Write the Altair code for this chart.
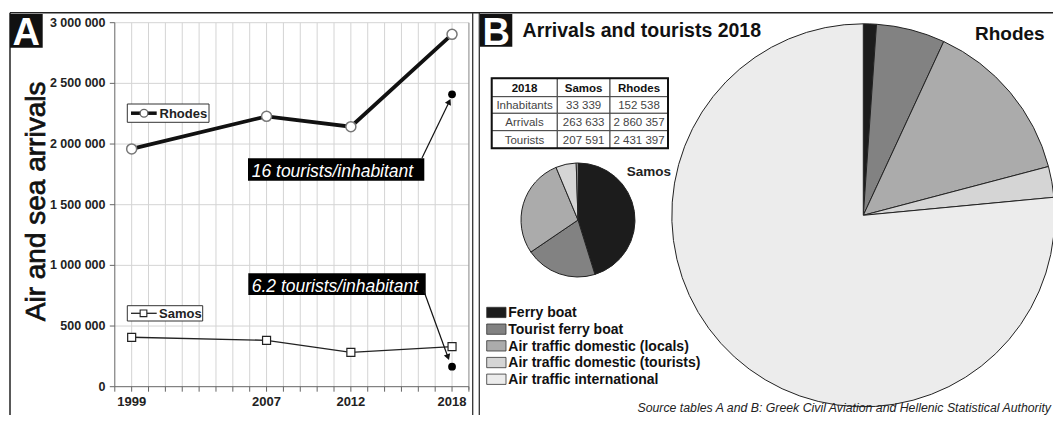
import altair as alt
import pandas as pd

# ---------------- data ----------------
years = [1999, 2007, 2012, 2018]
rhodes_arrivals = [1960000, 2228000, 2143000, 2904000]
samos_arrivals = [407000, 382000, 283000, 330000]
tourist_years = [2018, 2018]
tourist_values = [2410000, 165000]

y_ticks = [0, 500000, 1000000, 1500000, 2000000, 2500000, 3000000]
y_tick_labels = ["0", "500 000", "1 000 000", "1 500 000", "2 000 000", "2 500 000", "3 000 000"]
x_tick_years = list(range(1998, 2020))
x_label_years = [1999, 2007, 2012, 2018]

modes = ["Ferry boat", "Tourist ferry boat", "Air traffic domestic (locals)",
         "Air traffic domestic (tourists)", "Air traffic international"]
mode_colors = ["#1c1c1c", "#828282", "#ababab", "#d5d5d5", "#ececec"]
samos_share = [45.2, 20.3, 28.2, 5.8, 0.5]
rhodes_share = [1.1, 5.8, 14.0, 2.6, 76.5]

table_header = ["2018", "Samos", "Rhodes"]
table_rows = ["Inhabitants", "Arrivals", "Tourists"]
table_samos = [33339, 263633, 207591]
table_rhodes = [152538, 2860357, 2431397]

note_rhodes = "16 tourists/inhabitant"
note_samos = "6.2 tourists/inhabitant"
y_title = "Air and sea arrivals"
title_b = "Arrivals and tourists 2018"
source_text = "Source tables A and B: Greek Civil Aviation and Hellenic Statistical Authority"

# ---------------- layout ----------------
W, H = 1045, 407
FONT = "Liberation Sans"


def g(v):
    return v - 8


XR = [g(114.8), g(468.9)]
YR = [g(386.7), g(22.7)]
xs = alt.Scale(domain=[1998, 2019], range=XR, nice=False, zero=False)
ys = alt.Scale(domain=[0, 3000000], range=YR, nice=False, zero=False)
cs = alt.Scale(domain=modes, range=mode_colors)


def X(f):
    return alt.X(f, type="quantitative", scale=xs, axis=None)


def Y(f):
    return alt.Y(f, type="quantitative", scale=ys, axis=None)


ONE = pd.DataFrame({"a": [0]})


def txt(s, x, y, size, weight="normal", style="normal", color="#111",
        align="left", baseline="alphabetic", angle=None, stroke_w=None):
    kw = dict(font=FONT, fontSize=size, fontWeight=weight, fontStyle=style,
              color=color, align=align, baseline=baseline)
    if angle is not None:
        kw["angle"] = angle
    if stroke_w is not None:
        kw["stroke"] = color
        kw["strokeWidth"] = stroke_w
    return alt.Chart(pd.DataFrame({"t": [s]})).mark_text(**kw).encode(
        text="t:N", x=alt.value(x), y=alt.value(y))


def rect(x0, x1, y0, y1, fill, stroke=None, sw=1.0):
    kw = dict(fill=fill)
    if stroke is not None:
        kw["stroke"] = stroke
        kw["strokeWidth"] = sw
    return alt.Chart(ONE).mark_rect(**kw).encode(
        x=alt.value(x0), x2=alt.value(x1), y=alt.value(y0), y2=alt.value(y1))


def seg(x0, y0, x1, y1, color="#222", sw=1.0):
    return alt.Chart(ONE).mark_rule(color=color, strokeWidth=sw).encode(
        x=alt.value(x0), y=alt.value(y0), x2=alt.value(x1), y2=alt.value(y1))


def head(x, y, ang):
    return alt.Chart(ONE).mark_point(shape="triangle-up", filled=True, color="#111",
                                     size=45, angle=ang, opacity=1).encode(
        x=alt.value(x), y=alt.value(y))


layers = []

# ---- panel A: grid, frame, axes ----
vgrid = alt.Chart(pd.DataFrame({"year": [y for y in x_tick_years if 1998 < y < 2019]})).mark_rule(
    color="#d4d4d4", strokeWidth=1).encode(x=X("year"), y=alt.value(YR[1]), y2=alt.value(YR[0]))
hgrid = alt.Chart(pd.DataFrame({"v": y_ticks[1:]})).mark_rule(
    color="#d4d4d4", strokeWidth=1).encode(y=Y("v"), x=alt.value(XR[0]), x2=alt.value(XR[1]))
layers += [vgrid, hgrid]
layers.append(seg(XR[1], YR[1], XR[1], YR[0] + 3, "#9a9a9a", 1.2))
layers.append(seg(XR[0], YR[1], XR[0], YR[0], "#666", 1))
layers.append(seg(XR[0], YR[0], XR[1], YR[0], "#666", 1))

xticks = alt.Chart(pd.DataFrame({"year": x_tick_years})).mark_rule(color="#666", strokeWidth=1).encode(
    x=X("year"), y=alt.value(YR[0]), y2=alt.value(YR[0] + 5))
yticks = alt.Chart(pd.DataFrame({"v": y_ticks})).mark_rule(color="#666", strokeWidth=1).encode(
    y=Y("v"), x=alt.value(XR[0] - 5), x2=alt.value(XR[0]))
ylabels = alt.Chart(pd.DataFrame({"v": y_ticks, "lab": y_tick_labels})).mark_text(
    font=FONT, fontSize=12.5, fontWeight="bold", color="#222", align="right", baseline="middle").encode(
    y=Y("v"), x=alt.value(g(105.5)), text="lab:N")
xlabels = alt.Chart(pd.DataFrame({"year": x_label_years, "lab": [str(v) for v in x_label_years]})).mark_text(
    font=FONT, fontSize=13, fontWeight="bold", color="#222", align="center", baseline="alphabetic").encode(
    x=X("year"), y=alt.value(g(406)), text="lab:N")
layers += [xticks, yticks, ylabels, xlabels]
layers.append(txt(y_title, g(45), g(201.4), 28, color="#111", align="center", angle=270, stroke_w=0.7))

# ---- frame of the figure ----
layers.append(seg(g(10), g(12.7), W, g(12.7), "#222", 1.5))
layers.append(seg(g(10), g(12.7), g(10), H, "#222", 1.5))
layers.append(seg(g(472.7), g(12.7), g(472.7), H, "#333", 1.3))
layers.append(seg(g(479.3), g(12.7), g(479.3), H, "#333", 1.3))

# ---- series ----
rh = pd.DataFrame({"year": years, "v": rhodes_arrivals})
sa = pd.DataFrame({"year": years, "v": samos_arrivals})
tr = pd.DataFrame({"year": tourist_years, "v": tourist_values})
layers.append(alt.Chart(sa).mark_line(color="#222", strokeWidth=1.4).encode(x=X("year"), y=Y("v")))
layers.append(alt.Chart(rh).mark_line(color="#111", strokeWidth=3.8).encode(x=X("year"), y=Y("v")))
layers.append(alt.Chart(rh).mark_point(shape="circle", filled=True, fill="white", stroke="#777",
                                       strokeWidth=1.5, size=100, opacity=1).encode(x=X("year"), y=Y("v")))
layers.append(alt.Chart(sa).mark_point(shape="square", filled=True, fill="white", stroke="#222",
                                       strokeWidth=1.2, size=64, opacity=1).encode(x=X("year"), y=Y("v")))
layers.append(alt.Chart(tr).mark_circle(size=60, color="#000", opacity=1).encode(x=X("year"), y=Y("v")))

# ---- annotations ----
layers.append(rect(g(248), g(424.3), g(158.3), g(180.7), "#000"))
layers.append(txt(note_rhodes, g(251.7), g(176.5), 17.5, style="italic", color="white"))
layers.append(rect(g(248.3), g(425.7), g(273.3), g(295), "#000"))
layers.append(txt(note_samos, g(251.7), g(292.3), 17.5, style="italic", color="white"))
layers.append(seg(g(422), g(158), g(449.2), g(101.7), "#111", 1.2))
layers.append(head(g(449.2), g(101.7), 26))
layers.append(seg(g(423.5), g(290), g(448), g(357.2), "#111", 1.2))
layers.append(head(g(448), g(357.2), 160))

# ---- series legend boxes ----
layers.append(rect(g(127.3), g(209), g(104), g(122.3), "white", "#333", 1))
layers.append(seg(g(131), g(113.2), g(156.7), g(113.2), "#111", 3.5))
layers.append(alt.Chart(ONE).mark_point(shape="circle", filled=True, fill="white", stroke="#666",
                                        strokeWidth=1.3, size=60, opacity=1).encode(
    x=alt.value(g(144)), y=alt.value(g(113.2))))
layers.append(txt("Rhodes", g(159.5), g(117.5), 13, weight="bold", color="#222"))
layers.append(rect(g(127.3), g(202.7), g(305.7), g(321), "white", "#333", 1))
layers.append(seg(g(131), g(313.3), g(156.7), g(313.3), "#222", 1.3))
layers.append(alt.Chart(ONE).mark_point(shape="square", filled=True, fill="white", stroke="#222",
                                        strokeWidth=1.1, size=45, opacity=1).encode(
    x=alt.value(g(143.5)), y=alt.value(g(313.3))))
layers.append(txt("Samos", g(159), g(317.5), 13, weight="bold", color="#222"))

# ---- panel letters ----
layers.append(rect(g(10), g(42.7), g(14), g(47.7), "#111"))
layers.append(txt("A", g(26.3), g(45), 38, weight="bold", color="white", align="center"))
layers.append(rect(g(480), g(512.3), g(14), g(46.7), "#111"))
layers.append(txt("B", g(496.2), g(44.5), 38, weight="bold", color="white", align="center"))

# ---- panel B titles ----
layers.append(txt(title_b, g(522.6), g(36.7), 19.5, weight="bold", color="#111"))
layers.append(txt("Rhodes", g(975), g(40), 19, weight="bold", color="#111"))
layers.append(txt("Samos", g(626.7), g(176.3), 13.5, weight="bold", color="#222"))

# ---- pies ----
samos_df = pd.DataFrame({"mode": modes, "share": samos_share, "idx": list(range(5))})
rhodes_df = pd.DataFrame({"mode": modes, "share": rhodes_share, "idx": list(range(5))})
layers.append(alt.Chart(rhodes_df).mark_arc(radius=191.5, stroke="#222", strokeWidth=1).encode(
    theta=alt.Theta("share:Q", stack=True),
    color=alt.Color("mode:N", scale=cs, legend=None),
    order=alt.Order("idx:Q"),
    x=alt.value(g(863.3)), y=alt.value(g(215.3))))
layers.append(alt.Chart(samos_df).mark_arc(radius=57, stroke="#222", strokeWidth=1).encode(
    theta=alt.Theta("share:Q", stack=True),
    color=alt.Color("mode:N", scale=cs, legend=None),
    order=alt.Order("idx:Q"),
    x=alt.value(g(578)), y=alt.value(g(220))))

# ---- table ----
col_edges = [g(491.7), g(557.3), g(610), g(668)]
row_edges = [g(78.3), g(96.7), g(113.3), g(130.7), g(148.3)]
fmt = lambda v: f"{v:,}".replace(",", " ")
cells = []
grid_text = [table_header] + [[table_rows[i], fmt(table_samos[i]), fmt(table_rhodes[i])] for i in range(3)]
for r in range(4):
    for c in range(3):
        cells.append({"x0": col_edges[c], "x1": col_edges[c + 1], "y0": row_edges[r], "y1": row_edges[r + 1],
                      "xc": (col_edges[c] + col_edges[c + 1]) / 2, "yc": (row_edges[r] + row_edges[r + 1]) / 2 + 4.3,
                      "lab": grid_text[r][c], "head": r == 0})
cells = pd.DataFrame(cells)
layers.append(alt.Chart(cells).mark_rect(fill="white", stroke="#444", strokeWidth=1).encode(
    x=alt.X("x0:Q", scale=None), x2="x1:Q", y=alt.Y("y0:Q", scale=None), y2="y1:Q"))
layers.append(rect(col_edges[0], col_edges[-1], row_edges[0], row_edges[-1], "transparent", "#111", 2))
layers.append(alt.Chart(cells[cells["head"]]).mark_text(
    font=FONT, fontSize=11.5, fontWeight="bold", color="#111", align="center", baseline="alphabetic").encode(
    x=alt.X("xc:Q", scale=None), y=alt.Y("yc:Q", scale=None), text="lab:N"))
layers.append(alt.Chart(cells[~cells["head"]]).mark_text(
    font=FONT, fontSize=11.5, color="#444", align="center", baseline="alphabetic").encode(
    x=alt.X("xc:Q", scale=None), y=alt.Y("yc:Q", scale=None), text="lab:N"))

# ---- mode legend ----
leg = pd.DataFrame({"mode": modes, "idx": list(range(5))})
leg["y0"] = g(307.3) + 16.7 * leg["idx"]
leg["y1"] = leg["y0"] + 10.3
leg["yt"] = leg["y0"] + 9.8
layers.append(alt.Chart(leg).mark_rect(stroke="#333", strokeWidth=0.8).encode(
    x=alt.value(g(486.7)), x2=alt.value(g(506)),
    y=alt.Y("y0:Q", scale=None), y2="y1:Q",
    color=alt.Color("mode:N", scale=cs, legend=None)))
layers.append(alt.Chart(leg).mark_text(font=FONT, fontSize=14, fontWeight="bold", color="#111",
                                       align="left", baseline="alphabetic").encode(
    x=alt.value(g(508.3)), y=alt.Y("yt:Q", scale=None), text="mode:N"))

# ---- source ----
layers.append(txt(source_text, W - 2, g(411.5), 12.3, style="italic", color="#222", align="right"))

chart = alt.layer(*layers).properties(
    width=W, height=H, autosize=alt.AutoSizeParams(type="none"), padding=0
).configure_view(stroke="transparent")

chart.save("out.html", embed_options={"renderer": "svg", "actions": False})
